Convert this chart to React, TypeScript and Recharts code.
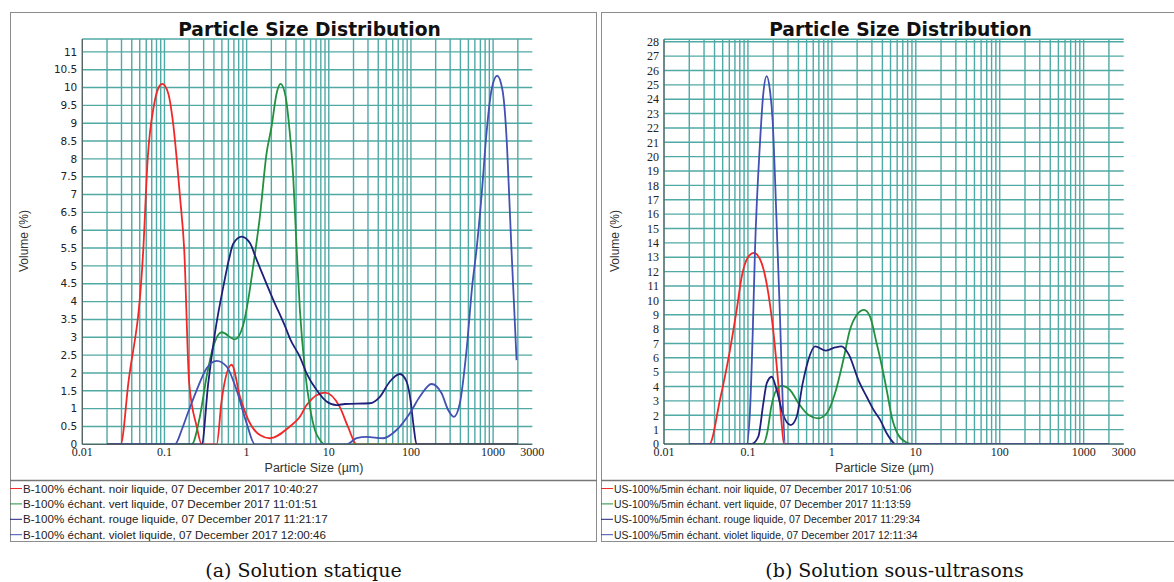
import { CartesianGrid, Line, LineChart, XAxis, YAxis } from "recharts";

type Pt = [number, number];

// size (µm) -> volume (%)

// (a) Solution statique
const staticNoir: Pt[] = [
  [0.02, 0], [0.0293, 0], [0.0363, 1.71], [0.0552, 5.45], [0.0625, 8.0], [0.0745, 9.5],
  [0.085, 10.0], [0.094, 10.1], [0.111, 9.84], [0.126, 9.09], [0.1545, 6.94], [0.174, 5.45],
  [0.2, 1.71], [0.247, 0.5], [0.284, 0], [0.432, 0], [0.497, 1.24], [0.658, 2.23],
  [0.83, 1.33], [1.05, 0.68], [1.45, 0.26], [1.92, 0.17], [3.36, 0.5], [4.45, 0.77],
  [5.37, 1.1], [8.97, 1.45], [13.6, 1.05], [17.2, 0.48], [21.8, 0], [2000, 0],
];
const staticVert: Pt[] = [
  [0.02, 0], [0.214, 0], [0.27, 0.78], [0.326, 1.9], [0.393, 2.74], [0.497, 3.14],
  [0.721, 2.94], [0.91, 3.35], [1.046, 4.05], [1.2, 4.98], [1.45, 6.38], [1.75, 8.16],
  [2.01, 8.9], [2.32, 9.84], [2.59, 10.1], [2.98, 9.75], [3.3, 8.9], [3.69, 7.5],
  [4.06, 5.5], [4.45, 3.77], [5.12, 2.09], [5.89, 1.05], [6.78, 0.4], [7.8, 0.12],
  [8.97, 0], [2000, 0],
];
const staticRouge: Pt[] = [
  [0.02, 0], [0.284, 0], [0.341, 1.71], [0.411, 3.11], [0.53, 4.51], [0.615, 5.22],
  [0.687, 5.62], [0.869, 5.82], [1.097, 5.64], [1.3, 5.22], [2.11, 4.05], [3.07, 3.2],
  [3.36, 2.97], [4.45, 2.45], [5.37, 1.99], [7.11, 1.52], [9.4, 1.2], [12.4, 1.1],
  [15.7, 1.13], [31.6, 1.15], [41.9, 1.33], [55.4, 1.76], [73.3, 1.97], [88.4, 1.76],
  [98.8, 1.24], [108, 0.49], [117, 0], [2000, 0],
];
const staticViolet: Pt[] = [
  [0.02, 0], [0.134, 0], [0.162, 0.4], [0.186, 0.78], [0.247, 1.52], [0.326, 2.13],
  [0.432, 2.34], [0.571, 2.18], [0.755, 1.52], [1.0, 0.59], [1.26, 0], [16.4, 0],
  [21.8, 0.17], [28.8, 0.21], [45.9, 0.17], [66.8, 0.4], [97, 0.87], [128, 1.33],
  [178, 1.69], [236, 1.43], [284, 0.96], [333, 0.77], [394, 1.15], [475, 2.64],
  [561, 4.51], [628, 5.45], [722, 6.94], [831, 8.72], [956, 9.93], [1119, 10.33],
  [1300, 9.93], [1455, 8.63], [1596, 6.57], [1674, 5.45], [1786, 4.05], [1930, 2.36],
];

// (b) Solution sous-ultrasons
const usNoir: Pt[] = [
  [0.02, 0], [0.0347, 0], [0.0464, 3.06], [0.0611, 6.54], [0.0734, 9.33], [0.0843, 11.64],
  [0.101, 13.03], [0.118, 13.31], [0.146, 12.57], [0.175, 10.49], [0.2, 7.93], [0.23, 4.22],
  [0.252, 1.44], [0.269, 0], [2000, 0],
];
const usVert: Pt[] = [
  [0.02, 0], [0.1525, 0], [0.17, 0.8], [0.19, 2.6], [0.215, 3.7], [0.252, 4.04],
  [0.317, 3.76], [0.401, 2.83], [0.527, 2.02], [0.689, 1.79], [0.869, 2.14], [1.09, 3.53],
  [1.37, 5.85], [1.64, 7.93], [1.98, 8.98], [2.42, 9.33], [2.85, 8.86], [3.42, 7.0],
  [3.75, 6.0], [4.5, 3.76], [5.16, 1.9], [6.19, 0.63], [7.8, 0.1], [8.94, 0], [2000, 0],
];
const usRouge: Pt[] = [
  [0.02, 0], [0.111, 0], [0.133, 0.51], [0.1525, 2.83], [0.1674, 4.22], [0.192, 4.68],
  [0.22, 3.76], [0.259, 2.14], [0.323, 1.32], [0.381, 1.9], [0.449, 4.22], [0.524, 5.85],
  [0.63, 6.8], [0.85, 6.5], [1.09, 6.72], [1.3, 6.8], [1.6, 6.2], [2.07, 4.45],
  [2.6, 3.29], [3.2, 2.3], [3.75, 1.7], [4.5, 0.75], [5.4, 0.1], [5.65, 0], [2000, 0],
];
const usViolet: Pt[] = [
  [0.02, 0], [0.0966, 0], [0.106, 2.4], [0.114, 7.7], [0.1214, 13.5], [0.139, 20.9],
  [0.1525, 24.4], [0.1674, 25.6], [0.183, 24.6], [0.197, 22.5], [0.21, 18.6], [0.224, 13.96],
  [0.241, 8.86], [0.259, 3.06], [0.279, 0], [2000, 0],
];

const staticLegend = [
  "B-100% échant. noir liquide, 07 December 2017 10:40:27",
  "B-100% échant. vert liquide, 07 December 2017 11:01:51",
  "B-100% échant. rouge liquide, 07 December 2017 11:21:17",
  "B-100% échant. violet liquide, 07 December 2017 12:00:46",
];
const usLegend = [
  "US-100%/5min échant. noir liquide, 07 December 2017 10:51:06",
  "US-100%/5min échant. vert liquide, 07 December 2017 11:13:59",
  "US-100%/5min échant. rouge liquide, 07 December 2017 11:29:34",
  "US-100%/5min échant. violet liquide, 07 December 2017 12:11:34",
];

const X_TICKS = [0.01, 0.1, 1, 10, 100, 1000, 3000];
const X_GRID: number[] = [];
for (const d of [0.01, 0.1, 1, 10, 100]) for (let k = 1; k < 10; k++) X_GRID.push(+(d * k).toPrecision(3));
X_GRID.push(1000, 2000);

const STATIC_Y_TICKS: number[] = [];
for (let i = 0; i <= 22; i++) STATIC_Y_TICKS.push(i / 2);
const US_Y_TICKS: number[] = [];
for (let i = 0; i <= 28; i++) US_Y_TICKS.push(i);

const COLORS = ["#f02828", "#23903f", "#20207a", "#4251b2"];
const GRID = "#4fa9a4";
const AXIS = "#555";

const rows = (pts: Pt[]) => pts.map(([x, v]) => ({ x, v }));

type Plot = { left: number; top: number; right: number; bottom: number };

function PsdChart({
  x, width, height, plot, yMax, yTicks, yFont, series,
}: {
  x: number; width: number; height: number; plot: Plot; yMax: number;
  yTicks: number[]; yFont: Record<string, string | number>; series: Pt[][];
}) {
  const xAxisH = 20;
  return (
    <div style={{ position: "absolute", left: x, top: 0 }}>
      <LineChart
        width={width}
        height={height}
        margin={{ top: plot.top, right: width - plot.right, bottom: height - plot.bottom - xAxisH, left: 0 }}
      >
        <CartesianGrid stroke={GRID} strokeWidth={1.4} verticalValues={X_GRID} />
        <XAxis
          dataKey="x" type="number" scale="log" domain={[0.01, 3000]} allowDataOverflow
          ticks={X_TICKS} interval={0} height={xAxisH} tickLine={false} tickSize={0} tickMargin={3}
          axisLine={{ stroke: AXIS }}
          tick={{ fontFamily: "Liberation Serif", fontSize: 12, fill: "#222" }}
          tickFormatter={(v) => String(v)}
        />
        <XAxis
          xAxisId="top" orientation="top" type="number" scale="log" domain={[0.01, 3000]}
          allowDataOverflow height={0} tick={false} tickLine={false} axisLine={{ stroke: "#666" }}
        />
        <YAxis
          type="number" domain={[0, yMax]} allowDataOverflow ticks={yTicks} interval={0}
          width={plot.left} tickLine={false} tickSize={0} tickMargin={5}
          axisLine={{ stroke: AXIS }} tick={{ fill: "#222", ...yFont }}
        />
        <YAxis
          yAxisId="right" orientation="right" type="number" domain={[0, yMax]} width={0}
          tick={false} tickLine={false} axisLine={{ stroke: "#666" }}
        />
        {series.map((s, i) => (
          <Line
            key={i} data={rows(s)} dataKey="v" type="monotone" stroke={COLORS[i]}
            strokeWidth={1.8} dot={false} activeDot={false} isAnimationActive={false}
          />
        ))}
      </LineChart>
    </div>
  );
}

function Panel({ x0, right, titleX, labelX, legend, legendSize, caption, captionX }: {
  x0: number; right: number; titleX: number; labelX: number; legend: string[];
  legendSize: number; caption: string; captionX: number;
}) {
  return (
    <g>
      <rect x={x0 + 0.5} y={12.5} width={right - x0 - 1} height={529} fill="none" stroke="#8c8c8c" />
      <line x1={x0} x2={right} y1={480.5} y2={480.5} stroke="#777" strokeWidth={1.5} />
      <text x={titleX} y={36} textAnchor="middle" fontFamily="DejaVu Sans" fontWeight="bold" fontSize={18.7} fill="#111">
        Particle Size Distribution
      </text>
      <text x={labelX} y={472} textAnchor="middle" fontFamily="Liberation Sans" fontSize={12.5} fill="#333">
        Particle Size (µm)
      </text>
      <text transform={`translate(${x0 + 18},241) rotate(-90)`} textAnchor="middle" fontFamily="Liberation Sans" fontSize={12} fill="#333">
        Volume (%)
      </text>
      {legend.map((t, i) => (
        <g key={t}>
          <line x1={x0} x2={x0 + 12} y1={488.5 + i * 15.4} y2={488.5 + i * 15.4} stroke={COLORS[i]} strokeWidth={1} />
          <text x={x0 + 13} y={492.5 + i * 15.4} fontFamily="Liberation Sans" fontSize={legendSize} fill="#222">{t}</text>
        </g>
      ))}
      <text x={captionX} y={577} textAnchor="middle" fontFamily="DejaVu Serif" fontSize={19} fill="#111">
        {caption}
      </text>
    </g>
  );
}

export default function App() {
  return (
    <div style={{ position: "absolute", left: 0, top: 0, width: 1174, height: 582, background: "#fff", overflow: "hidden" }}>
      <PsdChart
        x={0} width={597} height={470}
        plot={{ left: 82.3, top: 39, right: 532.3, bottom: 444.3 }}
        yMax={11.36} yTicks={STATIC_Y_TICKS}
        yFont={{ fontFamily: "DejaVu Sans", fontSize: 10.5 }}
        series={[staticNoir, staticVert, staticRouge, staticViolet]}
      />
      <PsdChart
        x={600} width={574} height={470}
        plot={{ left: 64, top: 39.3, right: 523.7, bottom: 444 }}
        yMax={28.17} yTicks={US_Y_TICKS}
        yFont={{ fontFamily: "Liberation Serif", fontSize: 12 }}
        series={[usNoir, usVert, usRouge, usViolet]}
      />
      <svg width={1174} height={582} style={{ position: "absolute", left: 0, top: 0, pointerEvents: "none" }}>
        <Panel x0={10} right={597} titleX={309.5} labelX={314} legend={staticLegend} legendSize={11.6}
          caption="(a) Solution statique" captionX={303.5} />
        <Panel x0={601} right={1190} titleX={900.5} labelX={884.5} legend={usLegend} legendSize={10.4}
          caption="(b) Solution sous-ultrasons" captionX={894.5} />
      </svg>
    </div>
  );
}
